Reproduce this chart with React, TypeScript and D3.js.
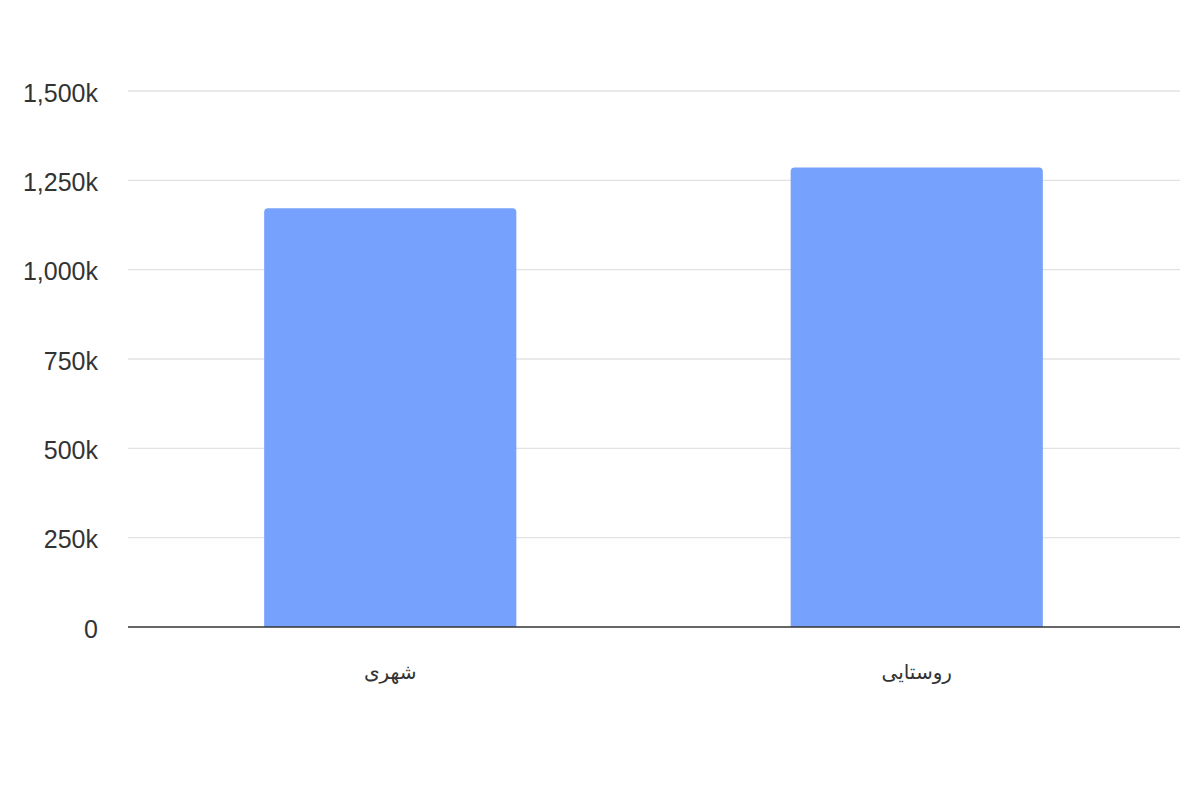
import React, { useRef, useEffect } from "react";
import * as d3 from "d3";

const categories = ["شهری", "روستایی"];
const values = [1172, 1286]; // thousands
const yTicks = [0, 250, 500, 750, 1000, 1250, 1500];

const width = 1200;
const height = 800;
const margin = { top: 91, right: 20, bottom: 173, left: 127 };

const Chart = () => {
  const ref = useRef<SVGSVGElement | null>(null);

  useEffect(() => {
    const svg = d3.select(ref.current);
    svg.selectAll("*").remove();

    const x = d3
      .scaleBand()
      .domain(categories)
      .range([margin.left, width - margin.right])
      .paddingInner(0.521)
      .paddingOuter(0.2605);

    const y = d3
      .scaleLinear()
      .domain([0, 1500])
      .range([height - margin.bottom, margin.top]);

    svg.append("rect").attr("width", width).attr("height", height).attr("fill", "#fff");

    // gridlines
    svg
      .append("g")
      .selectAll("line")
      .data(yTicks.filter((d) => d > 0))
      .join("line")
      .attr("x1", 128)
      .attr("x2", width - margin.right)
      .attr("y1", (d) => y(d))
      .attr("y2", (d) => y(d))
      .attr("stroke", "#e2e2e2")
      .attr("stroke-width", 1.3);

    // y labels
    const fmt = d3.format(",");
    svg
      .append("g")
      .selectAll("text")
      .data(yTicks)
      .join("text")
      .attr("x", 98)
      .attr("y", (d) => y(d))
      .attr("dy", "0.42em")
      .attr("text-anchor", "end")
      .attr("font-family", "'Liberation Sans', Arial, sans-serif")
      .attr("font-size", 25)
      .attr("fill", "#333")
      .text((d) => (d === 0 ? "0" : fmt(d) + "k"));

    // bars with rounded top corners
    const r = 4;
    svg
      .append("g")
      .selectAll("path")
      .data(categories.map((c, i) => ({ c, v: values[i] })))
      .join("path")
      .attr("fill", "#76a2fe")
      .attr("d", (d) => {
        const x0 = x(d.c)!;
        const x1 = x0 + x.bandwidth();
        const y0 = y(0);
        const y1 = y(d.v);
        return `M${x0},${y0}V${y1 + r}Q${x0},${y1} ${x0 + r},${y1}H${x1 - r}Q${x1},${y1} ${x1},${y1 + r}V${y0}Z`;
      });

    // baseline
    svg
      .append("line")
      .attr("x1", 128)
      .attr("x2", width - margin.right)
      .attr("y1", y(0))
      .attr("y2", y(0))
      .attr("stroke", "#333")
      .attr("stroke-width", 1.5);

    // x labels
    svg
      .append("g")
      .selectAll("text")
      .data(categories)
      .join("text")
      .attr("x", (d) => x(d)! + x.bandwidth() / 2)
      .attr("y", 672)
      .attr("dy", "0.35em")
      .attr("text-anchor", "middle")
      .attr("direction", "rtl")
      .attr("font-family", "'Liberation Sans', 'DejaVu Sans', Arial, sans-serif")
      .attr("font-size", 20)
      .attr("fill", "#333")
      .text((d) => d);
  }, []);

  return <svg ref={ref} width={width} height={height} style={{ display: "block" }} />;
};

export default function App() {
  return (
    <div style={{ position: "absolute", left: 0, top: 0 }}>
      <Chart />
    </div>
  );
}
